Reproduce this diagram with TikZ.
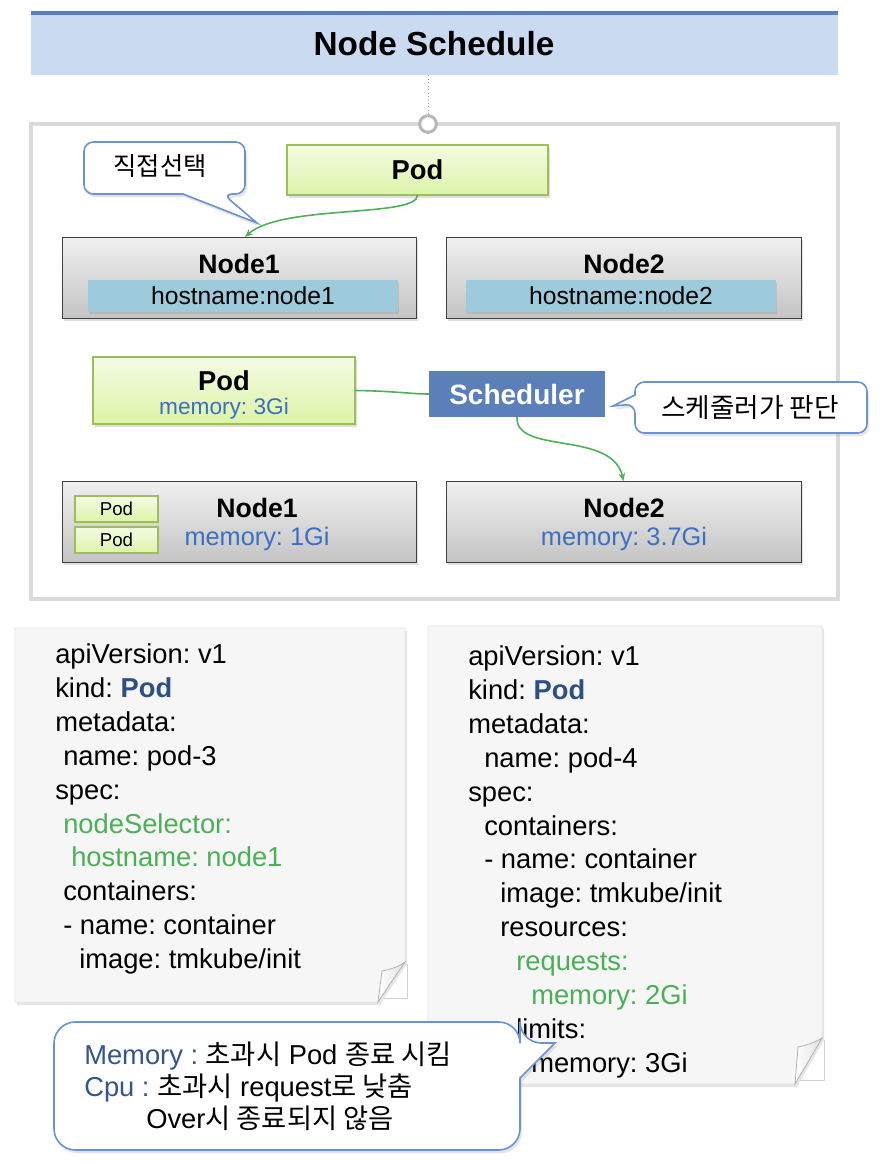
\documentclass[tikz,border=0pt]{standalone}
\usepackage{fontspec}
\setmainfont{Liberation Sans}
\newfontfamily\kr{Noto Sans CJK KR}
\usetikzlibrary{fit,shadows,arrows.meta}
\definecolor{titlefill}{HTML}{CADAF0}
\definecolor{titleline}{HTML}{5B7FBA}
\definecolor{framegray}{HTML}{DADADA}
\definecolor{callblue}{HTML}{6A92D4}
\definecolor{podtop}{HTML}{F4FBE3}
\definecolor{podbot}{HTML}{DCF4A8}
\definecolor{podedge}{HTML}{9EBE5A}
\definecolor{nodetop}{HTML}{F0F0F0}
\definecolor{nodebot}{HTML}{C4C4C4}
\definecolor{hostbar}{HTML}{9DCBDB}
\definecolor{memblue}{HTML}{3B6FC1}
\definecolor{schedblue}{HTML}{5A7FB9}
\definecolor{arrowgreen}{HTML}{4FB058}
\definecolor{yamlgreen}{HTML}{4CAF58}
\definecolor{kindblue}{HTML}{2D4F84}
\definecolor{memcall}{HTML}{34558F}
\definecolor{paper}{HTML}{F6F6F6}
\frenchspacing
\begin{document}
\begin{tikzpicture}[x=0.75pt,y=-0.75pt,
  box/.style={inner sep=0pt, outer sep=0pt},
  shad/.style={drop shadow={opacity=0.25, shadow xshift=1.5pt, shadow yshift=-2.5pt}},
  podbox/.style={box, shad, draw=podedge, line width=1.3pt, top color=podtop, bottom color=podbot},
  nodebox/.style={box, shad, draw=black!75, line width=0.7pt, top color=nodetop, bottom color=nodebot},
  barbox/.style={box, fill=hostbar, drop shadow={opacity=0.2, shadow xshift=1pt, shadow yshift=-1.5pt}},
  callout/.style={draw=callblue, line width=1.2pt, fill=white, drop shadow={opacity=0.2, shadow xshift=1.5pt, shadow yshift=-2.5pt}},
  conn/.style={draw=arrowgreen, line width=1.2pt},
  arr/.style={conn, -{Stealth[length=6pt,width=5pt]}},
  bigb/.style={font=\bfseries\fontsize{20}{24}\selectfont},
  hosttxt/.style={font=\fontsize{18.5}{22}\selectfont},
  memtxt/.style={font=\fontsize{19}{22}\selectfont, text=memblue},
  yaml/.style={anchor=base west, inner sep=0pt, font=\fontsize{20.5}{24}\selectfont},
  calltxt/.style={anchor=base west, inner sep=0pt, font=\fontsize{20.5}{24}\selectfont},
]
\useasboundingbox (0,0) rectangle (882,1164);
\fill[white] (0,0) rectangle (882,1164);

% title
\node[box, fill=titlefill, fit={(31,12)(838,75)}] (title) {};
\draw[titleline, line width=3pt] (31,13) -- (838,13);
\node[font=\bfseries\fontsize{25}{30}\selectfont] (ttl) at (434,44) {Node Schedule};

% frame
\node[box, draw=framegray, line width=3.2pt, fill=white, fit={(31,124)(838,599)}] (frame) {};
\node[circle, draw=black!28, line width=2.3pt, fill=white, minimum size=12.5pt, inner sep=0pt] (circ) at (428,124) {};
\draw[black!35, dotted, line width=0.6pt] (circ.north) -- (circ.north |- title.south);

% callout 1
\path[callout] (164,142) [rounded corners=7pt] -- (245,142) -- (245,194) -- (223,194) [sharp corners] -- (257,223) -- (183,194) [rounded corners=7pt] -- (84,194) -- (84,142) -- cycle;
\node[font=\kr\fontsize{19}{22}\selectfont] (c1) at (160,166) {직접선택};

% top pod
\node[podbox, fit={(287,145)(548,195)}] (pod1) {};
\node[font=\bfseries\fontsize{20.5}{24}\selectfont] (pod1t) at (pod1.center) {Pod};

% top nodes
\node[nodebox, fit={(62,237)(416,318)}] (n1t) {};
\node[bigb] (n1tl) at (239,264) {Node1};
\node[barbox, fit={(88,280)(398,312)}] (h1) {};
\node[hosttxt] (h1t) at (h1.center) {hostname:node1};

\node[nodebox, fit={(446,237)(801,318)}] (n2t) {};
\node[bigb] (n2tl) at (624,264) {Node2};
\node[barbox, fit={(466,280)(776,312)}] (h2) {};
\node[hosttxt] (h2t) at (h2.center) {hostname:node2};

\draw[arr] (pod1.south) .. controls (418,218) and (282,204) .. ([xshift=4.5pt]n1t.north);

% middle pod + scheduler
\node[podbox, fit={(93,357)(355,424)}] (pod2) {};
\node[font=\bfseries\fontsize{20.5}{24}\selectfont] (pod2t) at (224,381) {Pod};
\node[font=\fontsize{17}{20}\selectfont, text=memblue] (pod2m) at (224,409) {memory: 3Gi};

\node[box, fill=schedblue, fit={(429,371)(605,417)}] (sched) {};
\node[font=\bfseries\fontsize{21}{24}\selectfont, text=white] (schedt) at (sched.center) {Scheduler};
\draw[conn] (pod2.east) .. controls (395,391) and (410,394) .. (sched.west);

% callout 2
\path[callout] (750,382) [rounded corners=7pt] -- (867,382) -- (867,433) -- (635,433) -- (635,404) [sharp corners] -- (613,406) -- (635,395) [rounded corners=7pt] -- (635,382) -- cycle;
\node[font=\kr\fontsize{20}{24}\selectfont] (c2) at (750,408) {스케줄러가 판단};

% bottom nodes
\node[nodebox, fit={(62,481)(416,562)}] (n1b) {};
\node[box, draw=podedge, line width=1.3pt, top color=podtop, bottom color=podbot, fit={(75,496)(158,522)}] (sp1) {};
\node[font=\fontsize{14}{16}\selectfont] (sp1t) at (sp1.center) {Pod};
\node[box, draw=podedge, line width=1.3pt, top color=podtop, bottom color=podbot, fit={(75,527)(158,553)}] (sp2) {};
\node[font=\fontsize{14}{16}\selectfont] (sp2t) at (sp2.center) {Pod};
\node[bigb] (n1bl) at (257,508) {Node1};
\node[memtxt] (n1bm) at (257,539) {memory: 1Gi};

\node[nodebox, fit={(446,481)(801,562)}] (n2b) {};
\node[bigb] (n2bl) at (624,508) {Node2};
\node[memtxt] (n2bm) at (624,539) {memory: 3.7Gi};

\draw[arr] (sched.south) .. controls (515,455) and (612,430) .. (n2b.north);

% left paper
\fill[black, opacity=0.10] (17,631) -- (407,631) -- (407,964) .. controls (398,977) and (388,992) .. (380,1005) -- (17,1005) -- cycle;
\path[fill=paper, draw=black!10, line width=0.6pt] (15,628) -- (405,628) -- (405,962) .. controls (396,975) and (386,990) .. (378,1002) -- (15,1002) -- cycle;
\draw[black!18, line width=0.6pt] (384,998) -- (407,998) -- (407,964);
\path[draw=black!30, line width=0.6pt, left color=white, right color=black!12] (382,971) .. controls (392,969) and (400,966) .. (405,962) .. controls (396,975) and (386,990) .. (378,1002) -- cycle;

\node[yaml] (l1) at (55,663) {apiVersion: v1};
\node[yaml] (l2) at (55,697) {kind: \textcolor{kindblue}{\bfseries Pod}};
\node[yaml] (l3) at (55,731) {metadata:};
\node[yaml] (l4) at (63,765) {name: pod-3};
\node[yaml] (l5) at (55,799) {spec:};
\node[yaml, text=yamlgreen] (l6) at (63,833) {nodeSelector:};
\node[yaml, text=yamlgreen] (l7) at (71,866) {hostname: node1};
\node[yaml] (l8) at (63,900) {containers:};
\node[yaml] (l9) at (63,934) {- name: container};
\node[yaml] (l10) at (79,968) {image: tmkube/init};

% right paper
\fill[black, opacity=0.10] (430,629) -- (824,629) -- (824,1040) .. controls (815,1056) and (805,1072) .. (797,1087) -- (430,1087) -- cycle;
\path[fill=paper, draw=black!10, line width=0.6pt] (428,626) -- (822,626) -- (822,1038) .. controls (813,1054) and (803,1070) .. (795,1084) -- (428,1084) -- cycle;
\draw[black!18, line width=0.6pt] (800,1080) -- (824,1080) -- (824,1040);
\path[draw=black!30, line width=0.6pt, left color=white, right color=black!12] (798,1047) .. controls (808,1045) and (816,1042) .. (822,1038) .. controls (813,1054) and (803,1070) .. (795,1084) -- cycle;

\node[yaml] (r1) at (468,665) {apiVersion: v1};
\node[yaml] (r2) at (468,699) {kind: \textcolor{kindblue}{\bfseries Pod}};
\node[yaml] (r3) at (468,733) {metadata:};
\node[yaml] (r4) at (484,767) {name: pod-4};
\node[yaml] (r5) at (468,801) {spec:};
\node[yaml] (r6) at (484,835) {containers:};
\node[yaml] (r7) at (484,868) {- name: container};
\node[yaml] (r8) at (500,902) {image: tmkube/init};
\node[yaml] (r9) at (500,936) {resources:};
\node[yaml, text=yamlgreen] (r10) at (516,970) {requests:};
\node[yaml, text=yamlgreen] (r11) at (531,1004) {memory: 2Gi};
\node[yaml] (r12) at (516,1038) {limits:};
\node[yaml] (r13) at (531,1072) {memory: 3Gi};

% callout 3
\path[callout] (280,1022) [rounded corners=16pt] -- (520,1022) -- (520,1043) [sharp corners] -- (555,1043) -- (520,1078) [rounded corners=16pt] -- (520,1150) -- (54,1150) -- (54,1022) -- cycle;
\node[calltxt] (m1) at (84,1064) {\textcolor{memcall}{Memory :} {\kr 초과시} Pod {\kr 종료 시킴}};
\node[calltxt] (m2) at (84,1096) {\textcolor{memcall}{Cpu :} {\kr 초과시} request{\kr 로 낮춤}};
\node[calltxt] (m3) at (146,1128) {Over{\kr 시 종료되지 않음}};
\end{tikzpicture}
\end{document}
